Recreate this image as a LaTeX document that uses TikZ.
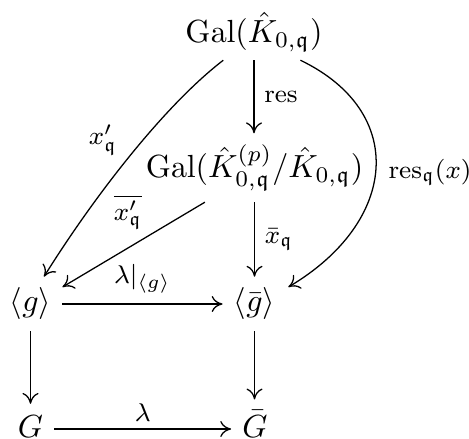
\documentclass[tikz,border=0pt]{standalone}
\usepackage{amsmath,amssymb}
\usetikzlibrary{arrows.meta}
\begin{document}
\begin{tikzpicture}[x=0.3125pt,y=-0.3125pt,
  obj/.style={anchor=base,inner sep=3.33pt},
  lab/.style={font=\footnotesize,inner sep=2pt},
  arr/.style={-{Computer Modern Rightarrow[length=3.4pt,width=5pt]},line width=0.4pt}]
\useasboundingbox (0,0) rectangle (469,439);
\node[obj] (top) at (254,43) {$\mathrm{Gal}(\hat K_{0,\mathfrak q})$};
\node[obj] (mid) at (254.5,178) {$\mathrm{Gal}(\hat K^{(p)}_{0,\mathfrak q}/\hat K_{0,\mathfrak q})$};
\node[obj] (g) at (30.5,312) {$\langle g\rangle$};
\node[obj] (gb) at (254.5,312) {$\langle \bar g\rangle$};
\node[obj] (G) at (30.5,437) {$G$};
\node[obj] (Gb) at (255,437) {$\bar G$};
% vertical arrows
\draw[arr] ([yshift=1pt]top.south) -- (top.south |- mid.north) node[lab,midway,right,xshift=1pt] {$\mathrm{res}$};
\draw[arr] (mid.south) -- (mid.south |- gb.north) node[lab,midway,right,xshift=1pt] {$\bar x_{\mathfrak q}$};
\draw[arr] (g.south) -- (g.south |- G.north);
\draw[arr] (gb.south) -- (gb.south |- Gb.north);
% horizontal arrows
\draw[arr] ([yshift=2.5pt]g.base east) -- ([yshift=2.5pt]gb.base west) node[lab,midway,above,yshift=1pt] {$\lambda|_{\langle g\rangle}$};
\draw[arr] ([yshift=2.5pt]G.base east) -- ([yshift=2.5pt]Gb.base west) node[lab,midway,above] {$\lambda$};
% curved and diagonal arrows
\draw[arr] ([xshift=-9.6pt,yshift=1pt]top.south) .. controls (165,105) and (95,195) .. ([xshift=4.2pt]g.north);
\node[lab] (lx) at (103,140) {$x'_{\mathfrak q}$};
\draw[arr] ([xshift=-15.5pt]mid.south) -- ([yshift=5.3pt]g.east);
\node[lab] (lxb) at (128,212) {$\overline{x'_{\mathfrak q}}$};
\draw[arr] ([xshift=14.5pt,yshift=1pt]top.south) .. controls (408,112) and (398,222) .. ([xshift=0.6pt,yshift=5.3pt]gb.east);
\node[lab] (lr) at (430,172) {$\mathrm{res}_{\mathfrak q}(x)$};
\end{tikzpicture}
\end{document}
